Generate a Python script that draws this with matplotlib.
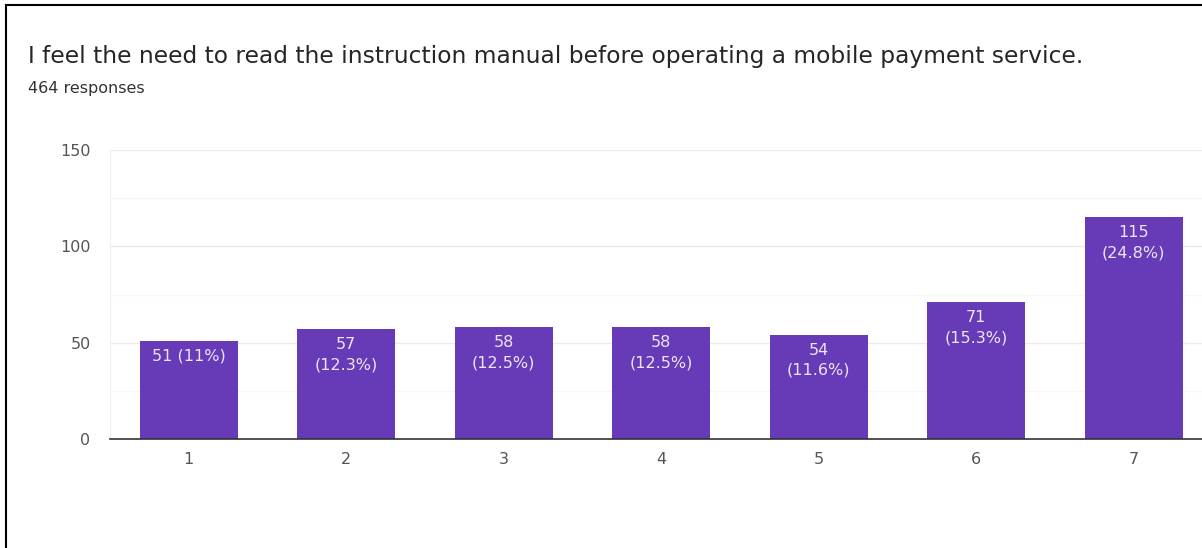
import matplotlib
matplotlib.use("Agg")
import matplotlib.pyplot as plt
from matplotlib.ticker import MultipleLocator

# Survey answers on a 1-7 scale
categories = ["1", "2", "3", "4", "5", "6", "7"]
counts = [51, 57, 58, 58, 54, 71, 115]
bar_labels = ["51 (11%)", "57\n(12.3%)", "58\n(12.5%)", "58\n(12.5%)",
              "54\n(11.6%)", "71\n(15.3%)", "115\n(24.8%)"]
y_ticks = [0, 50, 100, 150]

title = "I feel the need to read the instruction manual before operating a mobile payment service."
subtitle = "464 responses"

plt.rcParams["font.family"] = ["DejaVu Sans"]

W, H = 1202, 548
fig = plt.figure(figsize=(W / 100, H / 100), dpi=100)
fig.patch.set_facecolor("white")

# plot area: 110px from left, 7 bands of 157.5px, running off the right edge
left, right = 110, 110 + 7 * 157.5
bottom, top = 439, 150
ax = fig.add_axes([left / W, (H - bottom) / H, (right - left) / W, (bottom - top) / H])

x = range(len(categories))
bars = ax.bar(x, counts, width=0.625, color="#673ab7", zorder=3)
ax.set_xlim(-0.5, len(categories) - 0.5)
ax.set_ylim(0, 150)

ax.set_xticks(list(x))
ax.set_xticklabels(categories)
ax.set_yticks(y_ticks)
ax.yaxis.set_minor_locator(MultipleLocator(25))

ax.grid(axis="y", which="major", color="#ebebeb", linewidth=1, zorder=0)
ax.grid(axis="y", which="minor", color="#f6f6f6", linewidth=1, zorder=0)
ax.tick_params(axis="both", which="both", length=0, colors="#555555", labelsize=11.5)
ax.tick_params(axis="y", pad=14)
ax.tick_params(axis="x", pad=9)

for s in ("top", "right"):
    ax.spines[s].set_visible(False)
ax.spines["left"].set_color("#f0f0f0")
ax.spines["bottom"].set_color("#333333")
ax.spines["bottom"].set_linewidth(1.2)
ax.spines["bottom"].set_zorder(4)

for rect, lab in zip(bars, bar_labels):
    ax.annotate(lab, xy=(rect.get_x() + rect.get_width() / 2, rect.get_height()),
                xytext=(0, -5.5), textcoords="offset points",
                ha="center", va="top", color="#ece6f7", fontsize=11.5,
                linespacing=1.45, zorder=5)

fig.text(28 / W, 1 - 63 / H, title, fontsize=16.8, color="#262626",
         ha="left", va="baseline")
fig.text(28 / W, 1 - 93 / H, subtitle, fontsize=11.5, color="#333333",
         ha="left", va="baseline")

# frame lines along the top and left of the image
fig.add_artist(plt.Line2D([6 / W, 6 / W], [0, 1 - 5 / H], transform=fig.transFigure,
                          color="black", linewidth=1.5))
fig.add_artist(plt.Line2D([6 / W, 1], [1 - 5 / H, 1 - 5 / H], transform=fig.transFigure,
                          color="black", linewidth=1.5))

fig.savefig("out.png", dpi=100, facecolor="white")
